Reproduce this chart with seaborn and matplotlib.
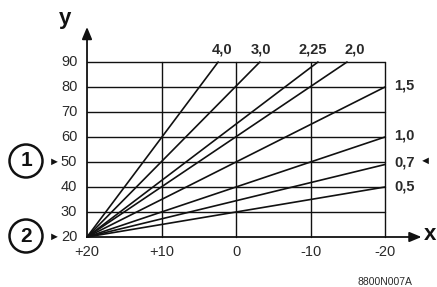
import matplotlib
matplotlib.use("Agg")
import matplotlib.pyplot as plt
from matplotlib.patches import Circle
import seaborn as sns
import pandas as pd

# ---- data ----
curve_labels = ["4,0", "3,0", "2,25", "2,0", "1,5", "1,0", "0,7", "0,5"]
start_x = 20
start_y = 20
end_x = [2.4, -3.2, -11.0, -14.9, -20, -20, -20, -20]
end_y = [90, 90, 90, 90, 80, 60, 49, 40]
x_ticks = [20, 10, 0, -10, -20]
x_tick_labels = ["+20", "+10", "0", "-10", "-20"]
y_ticks = [20, 30, 40, 50, 60, 70, 80, 90]
marker_labels = ["1", "2"]
marker_y = [50, 20]

sns.set_theme(style="white")
plt.rcParams["font.family"] = ["Liberation Sans", "DejaVu Sans"]

W, H = 437, 287
fig = plt.figure(figsize=(W / 100, H / 100), dpi=100)
ax = fig.add_axes([0, 0, 1, 1])

ink = "#111111"
txt = "#2a2a2a"

# curves
rows = []
for lab, ex, ey in zip(curve_labels, end_x, end_y):
    rows.append({"curve": lab, "x": start_x, "y": start_y})
    rows.append({"curve": lab, "x": ex, "y": ey})
df = pd.DataFrame(rows)
sns.lineplot(data=df, x="x", y="y", units="curve", estimator=None,
             color=ink, lw=1.2, ax=ax, legend=False, zorder=2)
ax.set_xlim(31.68, -26.98)
ax.set_ylim(0.0, 114.8)
ax.axis("off")

# grid
for yv in y_ticks[1:]:
    ax.plot([x_ticks[0], x_ticks[-1]], [yv, yv], color=ink, lw=1.0, zorder=1)
for xv in x_ticks[1:]:
    ax.plot([xv, xv], [y_ticks[0], y_ticks[-1]], color=ink, lw=1.0, zorder=1)

# axes with arrows
ax.annotate("", xy=(x_ticks[0], 104), xytext=(x_ticks[0], y_ticks[0]),
            arrowprops=dict(arrowstyle="-|>,head_length=0.6,head_width=0.25",
                            color=ink, lw=1.3, shrinkA=0, shrinkB=0))
ax.annotate("", xy=(-24.9, y_ticks[0]), xytext=(x_ticks[0], y_ticks[0]),
            arrowprops=dict(arrowstyle="-|>,head_length=0.6,head_width=0.25",
                            color=ink, lw=1.3, shrinkA=0, shrinkB=0))

# tick labels
for yv in y_ticks:
    ax.text(21.3, yv, str(yv), ha="right", va="center", fontsize=10.5, color=txt)
for xv, lab in zip(x_ticks, x_tick_labels):
    ax.text(xv, 14, lab, ha="center", va="center", fontsize=10.5, color=txt)

# axis names
ax.text(22.9, 107.5, "y", ha="center", va="center", fontsize=16, fontweight="bold", color=ink)
ax.text(-26.0, 21, "x", ha="center", va="center", fontsize=16, fontweight="bold", color=ink)

# curve labels
top_label_shift = [-0.5, -0.1, 0.7, -1.0]
ti = 0
for lab, ex, ey in zip(curve_labels, end_x, end_y):
    if ey >= 90:
        ax.text(ex + top_label_shift[ti], 94.8, lab, ha="center", va="center", fontsize=10.5,
                fontweight="bold", color=txt)
        ti += 1
    else:
        dy = 0.8 if lab in ("1,5", "1,0", "0,7") else 0.3
        ax.text(-21.2, ey + dy, lab, ha="left", va="center",
                fontsize=10.5, fontweight="bold", color=txt)
ax.text(-25.4, 50.3, "◄", ha="center", va="center", fontsize=8, color=ink)

# circled markers
for lab, yv in zip(marker_labels, marker_y):
    cy_px = 237 - (yv - 20) * 2.5
    circ = Circle((26, H - cy_px + 1), 16.5, transform=None, fill=False, ec=ink, lw=1.8)
    fig.patches.append(circ)
    fig.text(26 / W, 1 - cy_px / H + 1 / H, lab, ha="center", va="center", fontsize=15,
             fontweight="bold", color=ink)
    ax.text(24.4, yv, "►", ha="center", va="center", fontsize=8, color=ink)

ax.text(-20, 2.0, "8800N007A", ha="center", va="center", fontsize=7.5, color=txt)

fig.savefig("out.png", dpi=100)
